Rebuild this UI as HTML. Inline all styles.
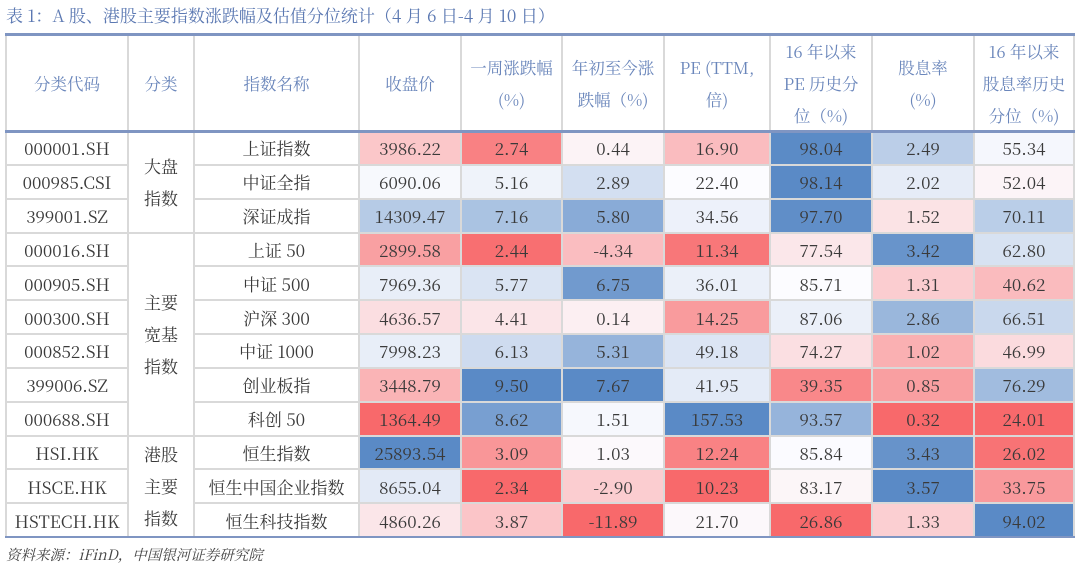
<!DOCTYPE html>
<html><head><meta charset="utf-8">
<style>
html,body{margin:0;padding:0;background:#fff;}
#root{position:relative;width:1080px;height:567px;overflow:hidden;font-family:"Noto Serif CJK SC","Liberation Serif",serif;}
.title{position:absolute;left:6px;top:3px;font-size:17px;color:#5b78b2;white-space:nowrap;line-height:24px;}
.cell{position:absolute;box-sizing:border-box;display:flex;align-items:center;justify-content:center;text-align:center;color:#3a3a3a;font-size:17px;}
.hd{color:#6a86bb;font-size:16.5px;line-height:32px;}
.src{position:absolute;left:6px;top:545px;font-size:14.5px;font-style:italic;color:#444;line-height:20px;}
</style></head>
<body>
<div id="root">
<div class="title">表 1：A 股、港股主要指数涨跌幅及估值分位统计（4 月 6 日-4 月 10 日）</div>
<div class="src">资料来源：iFinD，中国银河证券研究院</div>
</div>
<script>
const codes=["000001.SH","000985.CSI","399001.SZ","000016.SH","000905.SH","000300.SH","000852.SH","399006.SZ","000688.SH","HSI.HK","HSCE.HK","HSTECH.HK"];
const names=["上证指数","中证全指","深证成指","上证 50","中证 500","沪深 300","中证 1000","创业板指","科创 50","恒生指数","恒生中国企业指数","恒生科技指数"];
const groups=[["大盘<br>指数",0,3],["主要<br>宽基<br>指数",3,9],["港股<br>主要<br>指数",9,12]];
const closePx=[3986.22,6090.06,14309.47,2899.58,7969.36,4636.57,7998.23,3448.79,1364.49,25893.54,8655.04,4860.26];
const weekChg=[2.74,5.16,7.16,2.44,5.77,4.41,6.13,9.50,8.62,3.09,2.34,3.87];
const ytdChg=[0.44,2.89,5.80,-4.34,6.75,0.14,5.31,7.67,1.51,1.03,-2.90,-11.89];
const peTtm=[16.90,22.40,34.56,11.34,36.01,14.25,49.18,41.95,157.53,12.24,10.23,21.70];
const pePct=[98.04,98.14,97.70,77.54,85.71,87.06,74.27,39.35,93.57,85.84,83.17,26.86];
const divYield=[2.49,2.02,1.52,3.42,1.31,2.86,1.02,0.85,0.32,3.43,3.57,1.33];
const divPct=[55.34,52.04,70.11,62.80,40.62,66.51,46.99,76.29,24.01,26.02,33.75,94.02];
const headers=["分类代码","分类","指数名称","收盘价","一周涨跌幅<br>(%)","年初至今涨<br>跌幅（%)","PE (TTM,<br>倍)","16 年以来<br>PE 历史分<br>位（%)","股息率<br>(%)","16 年以来<br>股息率历史<br>分位（%)"];
const root=document.getElementById('root');
const X=[6,128,194,359,461,562,664,770,872,974,1074];
const TOP=34,HB=131,RH=(537-131)/12;
function mk(x,y,w,h,html,cls){const d=document.createElement('div');d.className='cell '+(cls||'');d.style.left=x+'px';d.style.top=y+'px';d.style.width=w+'px';d.style.height=h+'px';d.innerHTML=html;root.appendChild(d);return d;}
function line(x,y,w,h,c){const d=document.createElement('div');d.style.cssText=`position:absolute;left:${x}px;top:${y}px;width:${w}px;height:${h}px;background:${c}`;


root.appendChild(d);}
function lerp(a,b,t){return a.map((v,i)=>Math.round(v+(b[i]-v)*t));}
const RED=[248,105,107],WHITE=[252,252,255],BLUE=[90,138,198];
function colorFor(arr,v){const s=[...arr].sort((a,b)=>a-b);const mn=s[0],mx=s[s.length-1];const n=s.length;const md=n%2?s[(n-1)/2]:(s[n/2-1]+s[n/2])/2;
let c; if(v<=md){c=lerp(RED,WHITE,md===mn?1:(v-mn)/(md-mn));}else{c=lerp(WHITE,BLUE,mx===md?0:(v-md)/(mx-md));}return `rgb(${c.join(',')})`;}
headers.forEach((h,i)=>{const d=mk(X[i],TOP,X[i+1]-X[i],HB-TOP,h,'hd');

});
const dataCols=[closePx,weekChg,ytdChg,peTtm,pePct,divYield,divPct];
for(let r=0;r<12;r++){const y=HB+r*RH;
 let d=mk(X[0],y,X[1]-X[0],RH,codes[r]);
 
 
 d=mk(X[2],y,X[3]-X[2],RH,names[r]);
 
 
 dataCols.forEach((arr,j)=>{const c=mk(X[3+j],y,X[4+j]-X[3+j],RH,arr[r].toFixed(2));
  c.style.background=colorFor(arr,arr[r]);
  
  });
}
groups.forEach(g=>{const d=mk(X[1],HB+g[1]*RH,X[2]-X[1],(g[2]-g[1])*RH,g[0]);d.style.lineHeight='32px';

});
const G='#d9d9d9';
X.forEach(x=>line(x-1,TOP,2,537-TOP,G));
for(let r=1;r<12;r++){const y=Math.round(HB+r*RH)-1;
 const grpBreak=(r===3||r===9);
 line(X[0],y,X[1]-X[0],2,G);
 if(grpBreak) line(X[1],y,X[2]-X[1],2,G);
 line(X[2],y,X[10]-X[2],2,G);}
line(X[0]-1,TOP-1,X[10]-X[0]+2,3,'#7f95c2');
line(X[0]-1,HB-1,X[10]-X[0]+2,3,'#7f95c2');
line(X[0]-1,536,X[10]-X[0]+2,2,'#7f95c2');
</script>
</body></html>
